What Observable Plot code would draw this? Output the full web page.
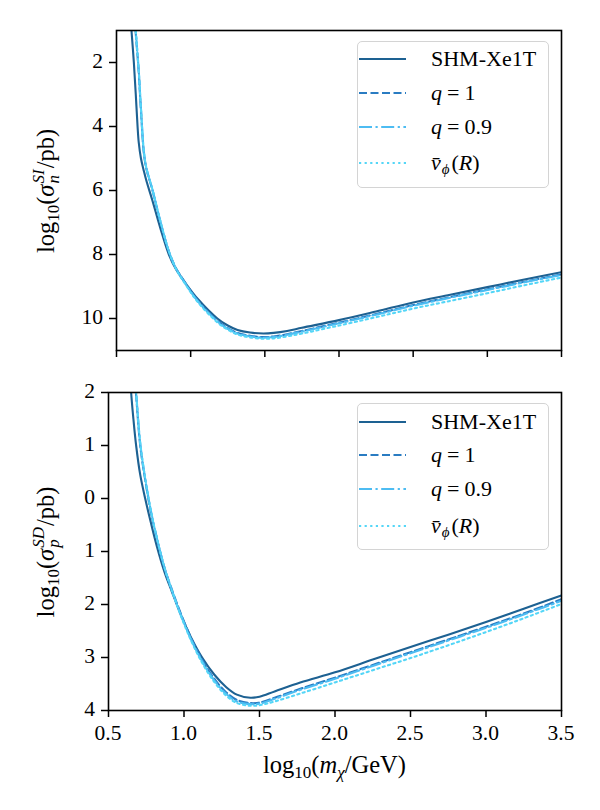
<!DOCTYPE html>
<html>
<head>
<meta charset="utf-8">
<script src="https://cdn.jsdelivr.net/npm/d3@7"></script>
<script src="https://cdn.jsdelivr.net/npm/@observablehq/plot@0.6"></script>
<style>
  html, body { margin: 0; padding: 0; background: #fff; }
  #fig { position: relative; width: 600px; height: 810px; font-family: "Liberation Serif", "Times New Roman", serif; color: #000; }
  #fig svg { position: absolute; left: 0; overflow: visible; }
  .tick { position: absolute; font-size: 21.5px; line-height: 21.5px; white-space: nowrap; }
  .title { position: absolute; font-size: 24.5px; line-height: 24.5px; white-space: nowrap; }
  .title sub { font-size: 17px; line-height: 0; vertical-align: -5px; }
  .title .stack { display: inline-flex; flex-direction: column; font-size: 17px; line-height: 15px; font-style: italic; vertical-align: 10px; margin-left: 1px; margin-right: 1px; }
  .legend { position: absolute; box-sizing: border-box; border: 1.3px solid #d4d4d4; border-radius: 5px; background: rgba(255,255,255,0.85); font-size: 22px; }
  .legend .row { position: absolute; left: 0; height: 30px; width: 100%; }
  .legend .row > svg { position: absolute; left: 8px; top: 0; }
  .legend .row > .lab { position: absolute; left: 73px; top: 0; line-height: 30px; white-space: nowrap; }
  .legend sub { font-size: 15px; vertical-align: -4px; line-height: 0; font-style: italic; margin: 0 2px 0 1px; }
  .legend .eq { margin: 0 5px; }
</style>
</head>
<body>
<div id="fig"></div>
<script>
// Exclusion limits: log10 of the cross-section (pb) versus log10 of the WIMP mass (GeV)
const seriesNames = ["SHM-Xe1T", "q = 1", "q = 0.9", "vphi(R)"];
const colors = ["#1d6192", "#2a7cc2", "#4dbcf2", "#54d6f7"];
const dashes = [null, "8,3.5", "13,3.5,2.2,3.5", "2.2,3.4"];

// Spin-independent (neutron) panel
const massSI = [0.590, 0.601, 0.617, 0.630, 0.642, 0.650, 0.665, 0.685, 0.703, 0.740,
                0.797, 0.853, 0.900, 0.966, 1.050, 1.180, 1.250, 1.316, 1.400, 1.490,
                1.560, 1.650, 1.750, 2.000, 2.250, 2.500, 2.750, 3.000, 3.250, 3.500];
const siSHM  = [-0.3, -1.0, -2.0, -3.0, -4.0, -4.5, -5.0, -5.4, -5.72, -6.28,
                -7.2, -8.0, -8.45, -8.9, -9.4, -10.0, -10.22, -10.36, -10.44, -10.47,
                -10.45, -10.39, -10.29, -10.05, -9.78, -9.50, -9.26, -9.02, -8.78, -8.55];
const siQ1   = [1.5, 0.9, 0.0, -1.1, -1.8, -2.3, -3.5, -4.85, -5.35, -5.95,
                -7.0, -7.9, -8.42, -8.9, -9.45, -10.07, -10.3, -10.45, -10.54, -10.58,
                -10.56, -10.49, -10.39, -10.13, -9.86, -9.58, -9.33, -9.09, -8.85, -8.62];
const siQ09  = [1.6, 1.0, 0.1, -1.0, -1.75, -2.25, -3.45, -4.8, -5.33, -5.93,
                -6.98, -7.9, -8.43, -8.92, -9.47, -10.09, -10.32, -10.47, -10.56, -10.6,
                -10.58, -10.51, -10.41, -10.15, -9.88, -9.6, -9.35, -9.11, -8.87, -8.64];
const siVphi = [1.6, 1.0, 0.1, -1.0, -1.75, -2.25, -3.45, -4.8, -5.33, -5.93,
                -6.98, -7.9, -8.44, -8.94, -9.5, -10.12, -10.35, -10.5, -10.59, -10.63,
                -10.62, -10.56, -10.47, -10.22, -9.96, -9.69, -9.45, -9.21, -8.96, -8.72];

// Spin-dependent (proton) panel
const massSD = [0.640, 0.650, 0.665, 0.683, 0.710, 0.743, 0.780, 0.820, 0.870, 0.920,
                0.980, 1.050, 1.120, 1.200, 1.280, 1.350, 1.440, 1.500, 1.600, 1.770,
                2.000, 2.250, 2.500, 2.750, 3.000, 3.250, 3.500];
const sdSHM  = [2.6, 2.0, 1.5, 1.0, 0.45, 0.0, -0.45, -0.9, -1.38, -1.76,
                -2.2, -2.64, -3.0, -3.32, -3.56, -3.70, -3.76, -3.74, -3.64, -3.47,
                -3.28, -3.04, -2.80, -2.57, -2.33, -2.08, -1.83];
const sdQ1   = [3.5, 3.1, 2.6, 1.95, 1.0, 0.35, -0.25, -0.75, -1.3, -1.72,
                -2.18, -2.65, -3.04, -3.4, -3.66, -3.8, -3.86, -3.85, -3.76, -3.59,
                -3.38, -3.14, -2.90, -2.66, -2.42, -2.17, -1.90];
const sdQ09  = [3.6, 3.2, 2.7, 2.0, 1.05, 0.38, -0.22, -0.74, -1.3, -1.73,
                -2.2, -2.68, -3.07, -3.43, -3.69, -3.83, -3.88, -3.87, -3.78, -3.61,
                -3.40, -3.16, -2.92, -2.68, -2.44, -2.19, -1.93];
const sdVphi = [3.6, 3.2, 2.7, 2.0, 1.05, 0.38, -0.22, -0.74, -1.3, -1.74,
                -2.22, -2.7, -3.1, -3.46, -3.72, -3.86, -3.91, -3.9, -3.83, -3.68,
                -3.47, -3.24, -3.01, -2.77, -2.52, -2.26, -1.99];

const xTicks = [0.5, 1.0, 1.5, 2.0, 2.5, 3.0, 3.5];
const siTicks = [-2, -4, -6, -8, -10];
const sdTicks = [2, 1, 0, -1, -2, -3, -4];

const fig = document.getElementById("fig");

function toRows(mass, values) {
  return mass.map((x, i) => ({x, y: values[i]}));
}

function lineMarks(mass, all) {
  return all.map((vals, k) => Plot.lineY(toRows(mass, vals), {
    x: "x", y: "y", stroke: colors[k], strokeWidth: 2.1,
    strokeDasharray: dashes[k], curve: "catmull-rom", clip: true
  }));
}

function panel({mass, all, yDomain, yTicks, height, marginTop, marginBottom, marginLeft}) {
  return Plot.plot({
    width: 600, height, marginTop, marginBottom, marginLeft, marginRight: 39,
    style: {background: "transparent", overflow: "visible", color: "#000"},
    x: {domain: [0.5, 3.5]},
    y: {domain: yDomain},
    marks: [
      ...lineMarks(mass, all),
      Plot.frame({stroke: "#000", strokeWidth: 1.6}),
      Plot.axisX({ticks: xTicks, tickSize: 7, strokeWidth: 1.5, label: null, tickFormat: () => ""}),
      Plot.axisY({ticks: yTicks, tickSize: 7, strokeWidth: 1.5, label: null, tickFormat: () => ""})
    ]
  });
}

// Tick labels set in the page's serif face, placed with each panel's own scales
function tickLabels(plot, offsetTop, yTicks, showX) {
  const sx = plot.scale("x"), sy = plot.scale("y");
  const left = sx.apply(0.5);
  yTicks.forEach(v => {
    const d = document.createElement("div");
    d.className = "tick";
    d.textContent = String(Math.abs(v));
    d.style.right = (600 - (left - 13)) + "px";
    d.style.top = (offsetTop + sy.apply(v) - 11) + "px";
    fig.appendChild(d);
  });
  if (showX) {
    const base = sy.apply(sy.domain[0]);
    xTicks.forEach(v => {
      const d = document.createElement("div");
      d.className = "tick";
      d.textContent = v.toFixed(1);
      d.style.left = sx.apply(v) + "px";
      d.style.top = (offsetTop + base + 13) + "px";
      d.style.transform = "translateX(-50%)";
      fig.appendChild(d);
    });
  }
}

const topPanel = panel({
  mass: massSI, all: [siSHM, siQ1, siQ09, siVphi], yDomain: [-11, -1], yTicks: siTicks,
  height: 360, marginTop: 30, marginBottom: 10, marginLeft: 116
});
topPanel.style.top = "0px";
fig.appendChild(topPanel);
tickLabels(topPanel, 0, siTicks, false);

const bottomPanel = panel({
  mass: massSD, all: [sdSHM, sdQ1, sdQ09, sdVphi], yDomain: [-4, 2], yTicks: sdTicks,
  height: 450, marginTop: 32, marginBottom: 100, marginLeft: 108
});
bottomPanel.style.top = "360px";
fig.appendChild(bottomPanel);
tickLabels(bottomPanel, 360, sdTicks, true);

// Axis titles
function title(html, cx, cy, rotate) {
  const d = document.createElement("div");
  d.className = "title";
  d.innerHTML = html;
  d.style.left = cx + "px";
  d.style.top = cy + "px";
  d.style.transform = `translate(-50%, -50%)${rotate ? " rotate(-90deg)" : ""}`;
  fig.appendChild(d);
}
title('log<sub>10</sub>(<i>σ</i><span class="stack"><span>SI</span><span>n</span></span>/pb)', 46, 191, true);
title('log<sub>10</sub>(<i>σ</i><span class="stack"><span>SD</span><span>p</span></span>/pb)', 46, 552, true);
title('log<sub>10</sub>(<i>m</i><sub><i>χ</i></sub>/GeV)', 334.5, 765, false);

// Legends
const labelsHTML = [
  "SHM-Xe1T",
  '<i>q</i><span class="eq">=</span>1',
  '<i>q</i><span class="eq">=</span>0.9',
  "<i>v&#772;</i><sub>ϕ</sub>(<i>R</i>)"
];
function legend(left, topPx, rowTops) {
  const box = document.createElement("div");
  box.className = "legend";
  Object.assign(box.style, {left: left + "px", top: topPx + "px", width: "192px", height: "147px"});
  rowTops.forEach((rt, k) => {
    const row = document.createElement("div");
    row.className = "row";
    row.style.top = rt + "px";
    const dash = dashes[k] ? `stroke-dasharray="${dashes[k]}"` : "";
    row.innerHTML = `<svg width="50" height="30"><line x1="1" x2="48" y1="15" y2="15" stroke="${colors[k]}" stroke-width="2.1" ${dash}/></svg><span class="lab">${labelsHTML[k]}</span>`;
    box.appendChild(row);
  });
  fig.appendChild(box);
}
legend(357, 41, [2, 36, 70, 106]);
legend(357, 403, [3, 36, 70, 107]);
</script>
</body>
</html>
